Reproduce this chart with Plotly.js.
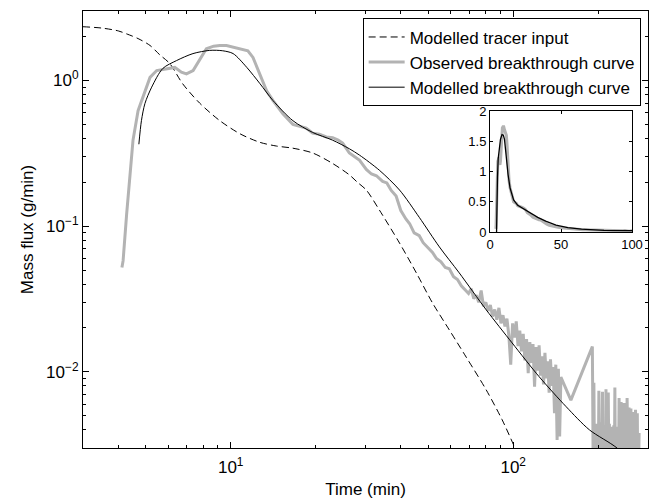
<!DOCTYPE html>
<html>
<head>
<meta charset="utf-8">
<script src="https://cdn.plot.ly/plotly-3.0.1.min.js"></script>
<style>html,body{margin:0;padding:0;background:#fff;}#chart{width:650px;height:499px;}</style>
</head>
<body>
<div id="chart"></div>
<script>
// ---- Data ----
var seriesNames = ['Modelled tracer input', 'Observed breakthrough curve', 'Modelled breakthrough curve'];

var tracerTime = [3.0, 3.5, 4.0, 4.28, 4.7, 5.18, 5.61, 6.08, 6.76, 7.76, 9.15, 10.8, 12.7, 14.5, 16.6, 19.5, 22.9, 26.3, 28.1, 30.2, 33.6, 39.6, 45.4, 51.8, 59.4, 68.2, 80.3, 91.3, 100.7, 110];
var tracerFlux = [2.34, 2.29, 2.19, 2.09, 1.94, 1.74, 1.50, 1.31, 0.95, 0.70, 0.53, 0.43, 0.376, 0.355, 0.343, 0.318, 0.27, 0.225, 0.20, 0.177, 0.129, 0.0765, 0.0478, 0.0297, 0.0194, 0.0126, 0.0075, 0.0047, 0.0031, 0.0021];

var modelTime = [4.6, 4.73, 4.83, 4.97, 5.25, 5.75, 6.43, 7.35, 8.43, 9.37, 10.2, 11.4, 12.7, 14.1, 16.6, 19.5, 22.9, 26.3, 28.6, 33.6, 39.6, 46.5, 54.8, 64.4, 80.3, 99.1, 123.6, 154, 186, 233, 280];
var modelFlux = [0, 0.365, 0.53, 0.695, 0.90, 1.21, 1.37, 1.53, 1.61, 1.60, 1.53, 1.23, 0.95, 0.73, 0.53, 0.44, 0.39, 0.34, 0.307, 0.242, 0.177, 0.115, 0.072, 0.0478, 0.0266, 0.0158, 0.00925, 0.00576, 0.0040, 0.0030, 0.0021];

var obsTime = [4.12, 4.16, 4.28, 4.40, 4.51, 4.70, 4.90, 5.18, 5.47, 5.93, 6.34, 6.69, 6.97, 7.36, 7.76, 8.2, 8.7, 9.15, 9.66, 10.2, 10.75, 11.5, 11.99, 12.66, 13.4, 14.1, 15.3, 16.6, 17.5, 18.5, 19.5, 20.6, 21.8, 22.96, 24.0, 24.9, 26.3, 27.5, 28.6,
  30.2, 31.5, 32.8, 34.5, 35.7, 37, 38.5, 40, 41.7, 43, 44.6, 46.5, 48, 50, 51.8, 53.5, 55.5, 57.5, 59.4, 61.5, 63.5, 65.5, 67,
  68, 69.5, 71, 72.5, 74, 75.5, 77, 78.5, 80, 81.5, 83, 84.5, 86, 87.5, 89, 90.5, 92, 93.5, 95, 96.5, 98, 99.5, 101, 102.5, 104, 105.5, 107, 108.5, 110, 111.5, 113, 114.5, 116, 117.5, 119, 120.5, 122, 123.5, 125, 126.5, 128, 129.5, 131, 132.5, 134, 135.5, 137, 138.5, 140, 141.5, 143, 144.5, 146, 147.5, 160, 190.6,
  191, 192, 193, 194, 195, 196, 197, 198, 199, 200, 201, 202, 203, 204, 205, 206, 207, 208, 209, 210, 211, 212, 213, 214, 215, 216, 217, 218, 219, 220,
  221, 222, 223, 224, 225, 226, 227, 228, 229, 230, 231, 232, 233, 234, 235, 236, 237, 238, 239, 240, 241, 242, 243, 244, 245, 246, 247, 248, 249, 250,
  251, 252, 253, 254, 255, 256, 257, 258, 259, 260, 261, 262, 263, 264, 265, 266, 267, 268, 269, 270, 271, 272, 273, 274, 275, 276, 277, 278, 279];
var obsFlux = [0.052, 0.058, 0.12, 0.23, 0.39, 0.62, 0.77, 1.05, 1.17, 1.20, 1.23, 1.14, 1.11, 1.17, 1.37, 1.65, 1.72, 1.74, 1.74, 1.69, 1.65, 1.60, 1.44, 1.11, 0.85, 0.73, 0.59, 0.50, 0.485, 0.472, 0.435, 0.428, 0.41, 0.405, 0.39, 0.372, 0.318, 0.30, 0.283,
  0.245, 0.228, 0.222, 0.203, 0.198, 0.176, 0.161, 0.128, 0.112, 0.104, 0.090, 0.086, 0.077, 0.071, 0.066, 0.060, 0.057, 0.052, 0.051, 0.045, 0.043, 0.039, 0.037,
  0.0360, 0.0345, 0.0372, 0.0318, 0.0335, 0.0300, 0.0362, 0.0282, 0.0300, 0.0262, 0.0288, 0.0240, 0.0268, 0.0228, 0.0275, 0.0215, 0.0245, 0.0205, 0.0232, 0.0178, 0.0112, 0.0215, 0.0172, 0.0222, 0.0150, 0.0192, 0.0138, 0.0182, 0.0120, 0.0168, 0.0098, 0.0160, 0.0115, 0.0155, 0.0079, 0.0148, 0.0102, 0.0152, 0.0094, 0.0128, 0.0082, 0.0135, 0.0090, 0.0118, 0.0072, 0.0122, 0.0080, 0.0108, 0.0052, 0.0112, 0.0034, 0.0105, 0.0036, 0.0092, 0.0064, 0.0149,
  0.0086, 0.0018, 0.0084, 0.0022, 0.0041, 0.0016, 0.0044, 0.0024, 0.0039, 0.0019, 0.0074, 0.0021, 0.0042, 0.0015, 0.0045, 0.0023, 0.0073, 0.0017, 0.0040, 0.0025, 0.0043, 0.0018, 0.0076, 0.0021, 0.0041, 0.0016, 0.0072, 0.0024, 0.0044, 0.0019,
  0.0038, 0.0022, 0.0042, 0.0015, 0.0040, 0.0023, 0.0043, 0.0018, 0.0078, 0.0020, 0.0041, 0.0024, 0.0037, 0.0017, 0.0042, 0.0021, 0.0066, 0.0019, 0.0040, 0.0025, 0.0062, 0.0016, 0.0039, 0.0022, 0.0043, 0.0018, 0.0061, 0.0023, 0.0038, 0.0017,
  0.0060, 0.0021, 0.0066, 0.0024, 0.0039, 0.0016, 0.0057, 0.0020, 0.0041, 0.0023, 0.0056, 0.0018, 0.0037, 0.0022, 0.0040, 0.0015, 0.0053, 0.0021, 0.0038, 0.0024, 0.0055, 0.0019, 0.0036, 0.0022, 0.0052, 0.0017, 0.0035, 0.0023, 0.0038];

// Tick labels
var xMajorVals = [10, 100];
var xMajorText = ['10<sup>1</sup>', '10<sup>2</sup>'];
var xMinorVals = [3, 4, 5, 6, 7, 8, 9, 20, 30, 40, 50, 60, 70, 80, 90, 200];
var yMajorVals = [0.01, 0.1, 1];
var yMajorText = ['10<sup>\u22122</sup>', '10<sup>\u22121</sup>', '10<sup>0</sup>'];
var yMinorVals = [0.003, 0.004, 0.005, 0.006, 0.007, 0.008, 0.009, 0.02, 0.03, 0.04, 0.05, 0.06, 0.07, 0.08, 0.09, 0.2, 0.3, 0.4, 0.5, 0.6, 0.7, 0.8, 0.9, 2];
var insetXVals = [0, 50, 100];
var insetYVals = [0, 0.5, 1, 1.5, 2];

// Log panel cannot show zero flux: keep only the positive model points there
var modelTimeLog = modelTime.filter(function (t, i) { return modelFlux[i] > 0; });
var modelFluxLog = modelFlux.filter(function (v) { return v > 0; });

// ---- Styles ----
var FONT = 'Liberation Sans, Arial, Helvetica, sans-serif';
var GRAY = '#b3b3b3';

var traces = [
  {x: tracerTime, y: tracerFlux, name: seriesNames[0], type: 'scatter', mode: 'lines',
   line: {color: '#000', width: 1, dash: '7px,4px', shape: 'spline', smoothing: 0.8}, legendgroup: 'a'},
  {x: obsTime, y: obsFlux, name: seriesNames[1], type: 'scatter', mode: 'lines',
   line: {color: GRAY, width: 3}, legendgroup: 'b'},
  {x: modelTimeLog, y: modelFluxLog, name: seriesNames[2], type: 'scatter', mode: 'lines',
   line: {color: '#000', width: 1, shape: 'spline', smoothing: 0.8}, legendgroup: 'c'},
  // inset
  {x: obsTime, y: obsFlux, xaxis: 'x2', yaxis: 'y2', type: 'scatter', mode: 'lines',
   line: {color: GRAY, width: 3}, showlegend: false, hoverinfo: 'skip'},
  {x: modelTime, y: modelFlux, xaxis: 'x2', yaxis: 'y2', type: 'scatter', mode: 'lines',
   line: {color: '#000', width: 1.3}, showlegend: false, hoverinfo: 'skip'}
];

var axisBase = {
  showline: true, linecolor: '#000', linewidth: 1, mirror: 'ticks',
  ticks: 'inside', tickcolor: '#000', tickwidth: 1, showgrid: false, zeroline: false
};

var layout = {
  width: 650, height: 499,
  margin: {l: 83, r: 2, t: 11, b: 51},
  paper_bgcolor: '#fff', plot_bgcolor: '#fff',
  font: {family: FONT, color: '#000', size: 17},
  showlegend: true,
  legend: {
    x: 0.987, y: 0.983, xanchor: 'right', yanchor: 'top',
    bgcolor: '#fff', bordercolor: '#000', borderwidth: 1,
    font: {family: FONT, size: 17, color: '#000'},
    tracegroupgap: 0, itemwidth: 36
  },
  xaxis: Object.assign({}, axisBase, {
    type: 'log', range: [Math.log10(3), Math.log10(300)],
    tickmode: 'array', tickvals: xMajorVals, ticktext: xMajorText, ticklen: 6,
    tickfont: {family: FONT, size: 17}, ticklabelstandoff: 4,
    minor: {tickmode: 'array', tickvals: xMinorVals, ticks: 'inside', ticklen: 3, tickcolor: '#000', showgrid: false},
    title: {text: 'Time (min)', font: {family: FONT, size: 17}, standoff: 6}
  }),
  yaxis: Object.assign({}, axisBase, {
    type: 'log', range: [Math.log10(0.003), Math.log10(3)],
    tickmode: 'array', tickvals: yMajorVals, ticktext: yMajorText, ticklen: 6,
    tickfont: {family: FONT, size: 17},
    minor: {tickmode: 'array', tickvals: yMinorVals, ticks: 'inside', ticklen: 3, tickcolor: '#000', showgrid: false},
    title: {text: 'Mass flux (g/min)', font: {family: FONT, size: 17}, standoff: 8}
  }),
  xaxis2: Object.assign({}, axisBase, {
    domain: [0.7204, 0.9717], anchor: 'y2', range: [0, 100],
    tickmode: 'array', tickvals: insetXVals, ticklen: 3,
    tickfont: {family: FONT, size: 13}
  }),
  yaxis2: Object.assign({}, axisBase, {
    domain: [0.4943, 0.7712], anchor: 'x2', range: [0, 2],
    tickmode: 'array', tickvals: insetYVals, ticklen: 3,
    tickfont: {family: FONT, size: 13}
  })
};

Plotly.newPlot('chart', traces, layout, {staticPlot: true, displayModeBar: false});
</script>
</body>
</html>
